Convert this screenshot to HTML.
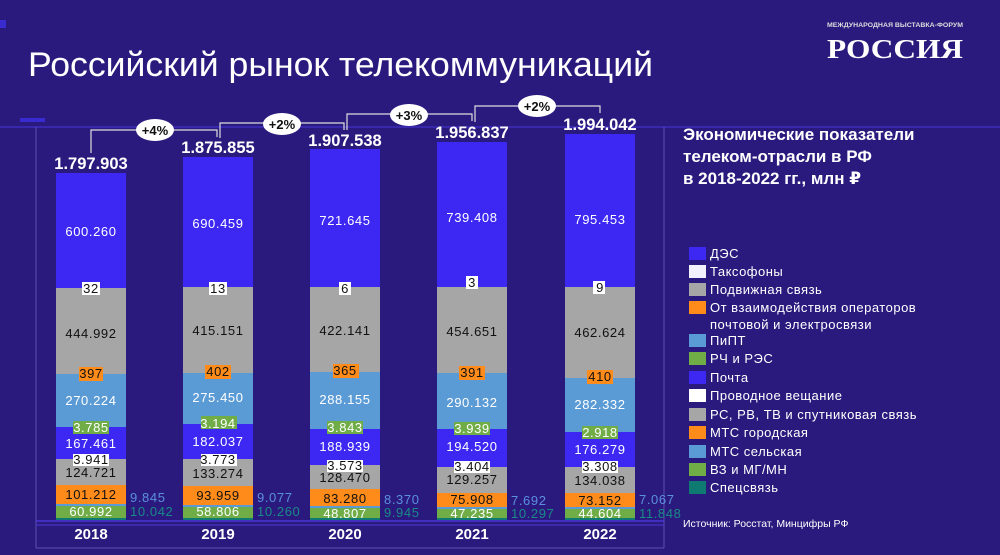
<!DOCTYPE html>
<html><head><meta charset="utf-8"><style>
html,body{margin:0;padding:0;background:#2b1a7e;}
svg{display:block;font-family:"Liberation Sans","DejaVu Sans",sans-serif;}
</style></head><body>
<svg width="1000" height="555" viewBox="0 0 1000 555" xmlns="http://www.w3.org/2000/svg">
<rect width="1000" height="555" fill="#2b1a7e"/>
<rect x="0" y="20" width="6" height="8" fill="#3a2bd0"/>
<rect x="20" y="118" width="25" height="4" fill="#3a2bd0"/>
<line x1="0" y1="127" x2="1000" y2="127" stroke="#4230c8" stroke-width="1.2"/>
<line x1="36" y1="127" x2="36" y2="548" stroke="#5a50b0" stroke-width="1"/>
<line x1="664" y1="127" x2="664" y2="548" stroke="#5a50b0" stroke-width="1"/>
<line x1="36" y1="521" x2="664" y2="521" stroke="#4b36d8" stroke-width="1.5"/>
<line x1="36" y1="525" x2="664" y2="525" stroke="#4b36d8" stroke-width="1"/>
<line x1="36" y1="548" x2="664" y2="548" stroke="#5a50b0" stroke-width="1"/>

<text x="28" y="76" font-size="34" fill="#fff" textLength="625" lengthAdjust="spacingAndGlyphs">Российский рынок телекоммуникаций</text>

<text x="827" y="27" font-size="6.5" fill="#ddd" font-weight="bold" textLength="136" lengthAdjust="spacingAndGlyphs">МЕЖДУНАРОДНАЯ ВЫСТАВКА-ФОРУМ</text>
<text x="827" y="58" font-size="27" fill="#fff" font-family="Liberation Serif,serif" font-weight="bold" textLength="136" lengthAdjust="spacingAndGlyphs">РОССИЯ</text>

<g font-weight="bold" font-size="17" fill="#fff">
<text x="683" y="140">Экономические показатели</text>
<text x="683" y="162">телеком-отрасли в РФ</text>
<text x="683" y="184">в 2018-2022 гг., млн ₽</text>
</g>

<g id="bars">
<rect x="56" y="173" width="70" height="115" fill="#3d27f2"/>
<rect x="56" y="288" width="70" height="86" fill="#a6a6a6"/>
<rect x="56" y="374" width="70" height="53" fill="#5b9bd5"/>
<rect x="56" y="427" width="70" height="32" fill="#3d27f2"/>
<rect x="56" y="459" width="70" height="26" fill="#a6a6a6"/>
<rect x="56" y="485" width="70" height="19" fill="#ff8c1a"/>
<rect x="56" y="504" width="70" height="2" fill="#5b9bd5"/>
<rect x="56" y="506" width="70" height="12" fill="#70ad47"/>
<rect x="56" y="518" width="70" height="2" fill="#0f7a72"/>
<rect x="183" y="157" width="70" height="130" fill="#3d27f2"/>
<rect x="183" y="287" width="70" height="86" fill="#a6a6a6"/>
<rect x="183" y="373" width="70" height="51" fill="#5b9bd5"/>
<rect x="183" y="424" width="70" height="35" fill="#3d27f2"/>
<rect x="183" y="459" width="70" height="27" fill="#a6a6a6"/>
<rect x="183" y="486" width="70" height="19" fill="#ff8c1a"/>
<rect x="183" y="505" width="70" height="2" fill="#5b9bd5"/>
<rect x="183" y="507" width="70" height="11" fill="#70ad47"/>
<rect x="183" y="518" width="70" height="2" fill="#0f7a72"/>
<rect x="310" y="149" width="70" height="138" fill="#3d27f2"/>
<rect x="310" y="287" width="70" height="85" fill="#a6a6a6"/>
<rect x="310" y="372" width="70" height="57" fill="#5b9bd5"/>
<rect x="310" y="429" width="70" height="36" fill="#3d27f2"/>
<rect x="310" y="465" width="70" height="24" fill="#a6a6a6"/>
<rect x="310" y="489" width="70" height="17" fill="#ff8c1a"/>
<rect x="310" y="506" width="70" height="2" fill="#5b9bd5"/>
<rect x="310" y="508" width="70" height="10" fill="#70ad47"/>
<rect x="310" y="518" width="70" height="2" fill="#0f7a72"/>
<rect x="437" y="142" width="70" height="145" fill="#3d27f2"/>
<rect x="437" y="287" width="70" height="86" fill="#a6a6a6"/>
<rect x="437" y="373" width="70" height="56" fill="#5b9bd5"/>
<rect x="437" y="429" width="70" height="38" fill="#3d27f2"/>
<rect x="437" y="467" width="70" height="26" fill="#a6a6a6"/>
<rect x="437" y="493" width="70" height="14" fill="#ff8c1a"/>
<rect x="437" y="507" width="70" height="2" fill="#5b9bd5"/>
<rect x="437" y="509" width="70" height="9" fill="#70ad47"/>
<rect x="437" y="518" width="70" height="2" fill="#0f7a72"/>
<rect x="565" y="134" width="70" height="153" fill="#3d27f2"/>
<rect x="565" y="287" width="70" height="91" fill="#a6a6a6"/>
<rect x="565" y="378" width="70" height="54" fill="#5b9bd5"/>
<rect x="565" y="432" width="70" height="35" fill="#3d27f2"/>
<rect x="565" y="467" width="70" height="26" fill="#a6a6a6"/>
<rect x="565" y="493" width="70" height="14" fill="#ff8c1a"/>
<rect x="565" y="507" width="70" height="2" fill="#5b9bd5"/>
<rect x="565" y="509" width="70" height="9" fill="#70ad47"/>
<rect x="565" y="518" width="70" height="2" fill="#0f7a72"/>
</g>

<g>
<rect x="82" y="282" width="18" height="13" fill="#fff"/>
<rect x="209" y="282" width="18" height="13" fill="#fff"/>
<rect x="339" y="282" width="12" height="13" fill="#fff"/>
<rect x="466" y="276" width="12" height="13" fill="#fff"/>
<rect x="593" y="281" width="12" height="13" fill="#fff"/>
<rect x="79" y="367" width="24" height="14" fill="#ff8c1a"/>
<rect x="205" y="365" width="26" height="14" fill="#ff8c1a"/>
<rect x="333" y="364" width="26" height="14" fill="#ff8c1a"/>
<rect x="459" y="366" width="26" height="14" fill="#ff8c1a"/>
<rect x="587" y="370" width="26" height="14" fill="#ff8c1a"/>
<rect x="73" y="421" width="36" height="13" fill="#70ad47"/>
<rect x="201" y="416" width="36" height="13" fill="#70ad47"/>
<rect x="327" y="421" width="36" height="13" fill="#70ad47"/>
<rect x="454" y="422" width="36" height="13" fill="#70ad47"/>
<rect x="582" y="426" width="36" height="13" fill="#70ad47"/>
<rect x="73" y="454" width="36" height="12" fill="#fff"/>
<rect x="201" y="454" width="36" height="12" fill="#fff"/>
<rect x="327" y="460" width="36" height="12" fill="#fff"/>
<rect x="454" y="461" width="36" height="12" fill="#fff"/>
<rect x="582" y="461" width="36" height="12" fill="#fff"/>
</g>

<g font-size="13" text-anchor="middle" letter-spacing="0.6">
<g fill="#fff">
<text x="91" y="236">600.260</text><text x="218" y="228">690.459</text><text x="345" y="225">721.645</text><text x="472" y="222">739.408</text><text x="600" y="224">795.453</text>
<text x="91" y="405">270.224</text><text x="218" y="402">275.450</text><text x="345" y="404">288.155</text><text x="472" y="407">290.132</text><text x="600" y="409">282.332</text>
<text x="91" y="432">3.785</text><text x="218" y="428">3.194</text><text x="345" y="432">3.843</text><text x="472" y="433">3.939</text><text x="600" y="437">2.918</text>
<text x="91" y="448">167.461</text><text x="218" y="446">182.037</text><text x="345" y="451">188.939</text><text x="472" y="451">194.520</text><text x="600" y="454">176.279</text>
<text x="91" y="516">60.992</text><text x="218" y="516">58.806</text><text x="345" y="518">48.807</text><text x="472" y="518">47.235</text><text x="600" y="518">44.604</text>
</g>
<g fill="#111">
<text x="91" y="293">32</text><text x="218" y="293">13</text><text x="345" y="293">6</text><text x="472" y="287">3</text><text x="600" y="292">9</text>
<text x="91" y="338">444.992</text><text x="218" y="335">415.151</text><text x="345" y="335">422.141</text><text x="472" y="336">454.651</text><text x="600" y="337">462.624</text>
<text x="91" y="378">397</text><text x="218" y="376">402</text><text x="345" y="375">365</text><text x="472" y="377">391</text><text x="600" y="381">410</text>
<text x="91" y="464">3.941</text><text x="218" y="464">3.773</text><text x="345" y="470">3.573</text><text x="472" y="471">3.404</text><text x="600" y="471">3.308</text>
<text x="91" y="477">124.721</text><text x="218" y="478">133.274</text><text x="345" y="482">128.470</text><text x="472" y="484">129.257</text><text x="600" y="485">134.038</text>
<text x="91" y="499">101.212</text><text x="218" y="500">93.959</text><text x="345" y="503">83.280</text><text x="472" y="504">75.908</text><text x="600" y="505">73.152</text>
</g>
</g>
<g font-size="13" letter-spacing="0.6">
<g fill="#5b8fe0">
<text x="130" y="502">9.845</text><text x="257" y="502">9.077</text><text x="384" y="504">8.370</text><text x="511" y="505">7.692</text><text x="639" y="504">7.067</text>
</g>
<g fill="#1a8a86">
<text x="130" y="516">10.042</text><text x="257" y="516">10.260</text><text x="384" y="517">9.945</text><text x="511" y="518">10.297</text><text x="639" y="518">11.848</text>
</g>
</g>

<g font-weight="bold" font-size="15" fill="#fff" text-anchor="middle">
<text x="91" y="539">2018</text><text x="218" y="539">2019</text><text x="345" y="539">2020</text><text x="472" y="539">2021</text><text x="600" y="539">2022</text>
</g>
<g font-weight="bold" font-size="16.5" fill="#fff" text-anchor="middle">
<text x="91" y="169">1.797.903</text><text x="218" y="153">1.875.855</text><text x="345" y="146">1.907.538</text><text x="472" y="138">1.956.837</text><text x="600" y="130">1.994.042</text>
</g>

<g stroke="#ddd" stroke-width="1.2" fill="none">
<polyline points="91,153 91,130 217,130 217,137"/>
<polyline points="220,138 220,123 344,123 344,130"/>
<polyline points="347,130 347,114 472,114 472,121"/>
<polyline points="475,122 475,106 600,106 600,113"/>
</g>
<g fill="#fff">
<ellipse cx="155" cy="130" rx="19" ry="11"/>
<ellipse cx="282" cy="124" rx="19" ry="11"/>
<ellipse cx="409" cy="115" rx="19" ry="11"/>
<ellipse cx="537" cy="106" rx="19" ry="11"/>
</g>
<g font-weight="bold" font-size="13" fill="#111" text-anchor="middle">
<text x="155" y="135">+4%</text><text x="282" y="129">+2%</text><text x="409" y="120">+3%</text><text x="537" y="111">+2%</text>
</g>

<g>
<rect x="689" y="247" width="17" height="13" fill="#3d27f2"/>
<rect x="689" y="265" width="17" height="13" fill="#f2f2ff"/>
<rect x="689" y="283" width="17" height="13" fill="#a6a6a6"/>
<rect x="689" y="301" width="17" height="13" fill="#ff8c1a"/>
<rect x="689" y="334" width="17" height="13" fill="#5b9bd5"/>
<rect x="689" y="352" width="17" height="13" fill="#70ad47"/>
<rect x="689" y="371" width="17" height="13" fill="#3d27f2"/>
<rect x="689" y="389" width="17" height="13" fill="#fff"/>
<rect x="689" y="408" width="17" height="13" fill="#a6a6a6"/>
<rect x="689" y="426" width="17" height="13" fill="#ff8c1a"/>
<rect x="689" y="445" width="17" height="13" fill="#5b9bd5"/>
<rect x="689" y="463" width="17" height="13" fill="#70ad47"/>
<rect x="689" y="481" width="17" height="13" fill="#0f7a72"/>
</g>
<g font-size="13" fill="#fff" letter-spacing="0.5">
<text x="710" y="258">ДЭС</text>
<text x="710" y="276">Таксофоны</text>
<text x="710" y="294">Подвижная связь</text>
<text x="710" y="312">От взаимодействия операторов</text>
<text x="710" y="329">почтовой и электросвязи</text>
<text x="710" y="345">ПиПТ</text>
<text x="710" y="363">РЧ и РЭС</text>
<text x="710" y="382">Почта</text>
<text x="710" y="400">Проводное вещание</text>
<text x="710" y="419">РС, РВ, ТВ и спутниковая связь</text>
<text x="710" y="437">МТС городская</text>
<text x="710" y="456">МТС сельская</text>
<text x="710" y="474">ВЗ и МГ/МН</text>
<text x="710" y="492">Спецсвязь</text>
</g>
<text x="683" y="527" font-size="10.5" fill="#fff">Источник: Росстат, Минцифры РФ</text>
</svg>
</body></html>
